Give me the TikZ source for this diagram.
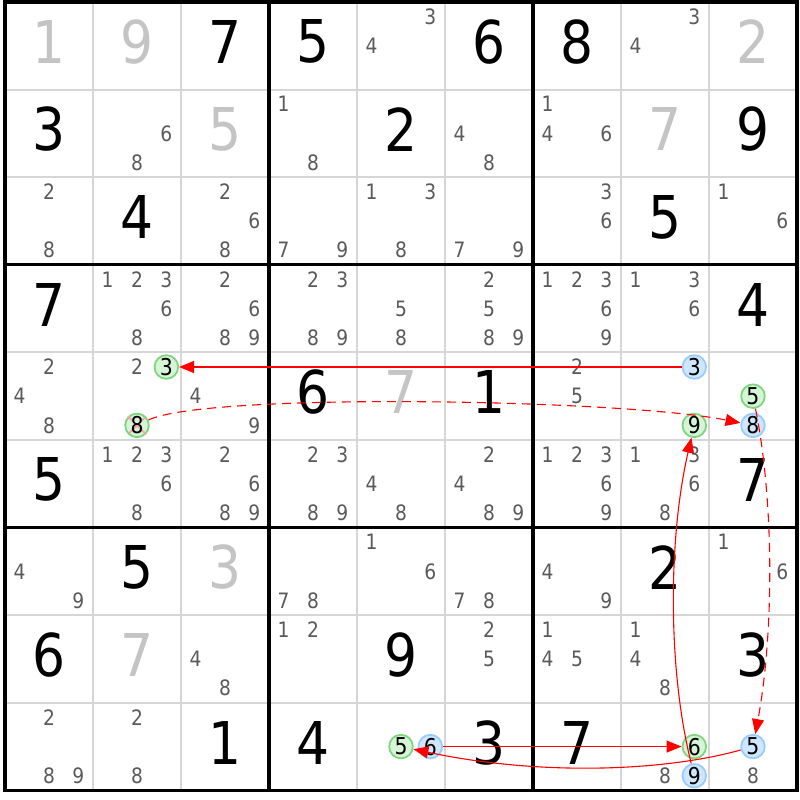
\documentclass[tikz,border=0pt]{standalone}
\usepackage{fontspec}
\setmainfont{DejaVu Sans}[FakeStretch=0.88]
\usepackage{tikz}
\usetikzlibrary{arrows.meta}
\tikzset{>={Triangle[length=7.5pt,width=6pt]}}
\definecolor{candgray}{HTML}{5A5A5A}
\definecolor{solvedgray}{HTML}{C4C4C4}
\definecolor{gridgray}{HTML}{D6D6D6}
\definecolor{hlgreen}{HTML}{D6F5D6}
\definecolor{hlgreenline}{HTML}{7FD67F}
\definecolor{hlblue}{HTML}{CFE6FF}
\definecolor{hlblueline}{HTML}{99CCFF}
\definecolor{crossred}{HTML}{F2A6A6}
\tikzstyle{given} = [font=\fontsize{29.5pt}{29.5pt}\selectfont, inner sep=0pt, yshift=2pt]
\tikzstyle{solved} = [given, text=solvedgray]
\tikzstyle{cand} = [font=\fontsize{10.6pt}{12pt}\selectfont, text=candgray, inner sep=0pt]
\tikzstyle{grn} = [cand, font=\fontsize{11.6pt}{12pt}\selectfont, text=black, circle,
    draw=hlgreenline, fill=hlgreen, line width=0.9pt, minimum size=11.8pt]
\tikzstyle{blu} = [grn, draw=hlblueline, fill=hlblue]
\tikzstyle{link} = [draw=red, line width=0.55pt, ->]
\tikzstyle{dlink} = [link, dash pattern=on 4.5pt off 3pt]
% small candidates of one cell: row, column, digits
\newcommand\cands[3]{\foreach \d in {#3}{
    \node[cand] (r#1c#2n\d) at ({#2-1+(mod(\d-1,3)+0.5)/3},{#1-1+(int((\d-1)/3)+0.5)/3}) {\d};}}
% one marked candidate: style, row, column, digit
\newcommand\hlcand[4]{
    \node[#1] (r#2c#3n#4) at ({#3-1+(mod(#4-1,3)+0.5)/3},{#2-1+(int((#4-1)/3)+0.5)/3}) {#4};}

\begin{document}
\begin{tikzpicture}[x=44pt, y=-43.8pt]
    \useasboundingbox (-0.057,-0.023) rectangle (9.034,9.110);
    \fill[white] (-0.057,-0.023) rectangle (9.034,9.110);

    % the grid
    \foreach \i in {1,...,8} {
        \draw[gridgray, line width=1pt] (\i,0) -- (\i,9);
        \draw[gridgray, line width=1pt] (0,\i) -- (9,\i);
    }
    \foreach \i in {3,6} {
        \draw[line width=1.7pt] (\i,0) -- (\i,9);
        \draw[line width=1.7pt] (0,\i) -- (9,\i);
    }
    \draw[line width=1.7pt] (0,0) rectangle (9,9);

    % givens and solved cells
    \foreach \r/\c/\v in {1/3/7, 1/4/5, 1/6/6, 1/7/8, 2/1/3, 2/5/2, 2/9/9,
        3/2/4, 3/8/5, 4/1/7, 4/9/4, 5/4/6, 5/6/1, 6/1/5, 6/9/7, 7/2/5, 7/8/2,
        8/1/6, 8/5/9, 8/9/3, 9/3/1, 9/4/4, 9/6/3, 9/7/7}
        \node[given] (d\r\c) at (\c-0.5,\r-0.5) {\v};
    \foreach \r/\c/\v in {1/1/1, 1/2/9, 1/9/2, 2/3/5, 2/8/7, 5/5/7, 7/3/3, 8/2/7}
        \node[solved] (d\r\c) at (\c-0.5,\r-0.5) {\v};

    % candidates
    \cands{1}{5}{3,4} \cands{1}{8}{3,4}
    \cands{2}{2}{6,8} \cands{2}{4}{1,8} \cands{2}{6}{4,8} \cands{2}{7}{1,4,6}
    \cands{3}{1}{2,8} \cands{3}{3}{2,6,8} \cands{3}{4}{7,9} \cands{3}{5}{1,3,8}
    \cands{3}{6}{7,9} \cands{3}{7}{3,6} \cands{3}{9}{1,6}
    \cands{4}{2}{1,2,3,6,8} \cands{4}{3}{2,6,8,9} \cands{4}{4}{2,3,8,9}
    \cands{4}{5}{5,8} \cands{4}{6}{2,5,8,9} \cands{4}{7}{1,2,3,6,9} \cands{4}{8}{1,3,6}
    \cands{5}{1}{2,4,8} \cands{5}{2}{2} \cands{5}{3}{4,9} \cands{5}{7}{2,5}
    \cands{6}{2}{1,2,3,6,8} \cands{6}{3}{2,6,8,9} \cands{6}{4}{2,3,8,9}
    \cands{6}{5}{4,8} \cands{6}{6}{2,4,8,9} \cands{6}{7}{1,2,3,6,9} \cands{6}{8}{1,3,6,8}
    \cands{7}{1}{4,9} \cands{7}{4}{7,8} \cands{7}{5}{1,6} \cands{7}{6}{7,8}
    \cands{7}{7}{4,9} \cands{7}{9}{1,6}
    \cands{8}{3}{4,8} \cands{8}{4}{1,2} \cands{8}{6}{2,5} \cands{8}{7}{1,4,5} \cands{8}{8}{1,4,8}
    \cands{9}{1}{2,8,9} \cands{9}{2}{2,8} \cands{9}{8}{8} \cands{9}{9}{8}

    % marked candidates
    \hlcand{grn}{5}{2}{3}
    \hlcand{blu}{5}{8}{3} \hlcand{grn}{5}{8}{9}
    \hlcand{grn}{5}{9}{5} \hlcand{blu}{5}{9}{8}
    \hlcand{grn}{9}{5}{5} \hlcand{blu}{9}{5}{6}
    \hlcand{grn}{9}{8}{6} \hlcand{blu}{9}{8}{9}
    \hlcand{blu}{9}{9}{5}
    % the struck out 8
    \node[grn] (r5c2n8) at ({1+1.5/3},{4+2.5/3}) {\phantom{8}};
    \draw[crossred, line width=0.9pt, shorten <=1pt, shorten >=1pt]
        (r5c2n8.north west) -- (r5c2n8.south east)
        (r5c2n8.north east) -- (r5c2n8.south west);
    \node[grn, draw=none, fill=none] (r5c2t8) at (r5c2n8) {8};

    % the chain
    \draw[link] (r5c8n3) -- (r5c2n3);
    \draw[dlink] (r5c2n8) .. controls +(0.8,-0.38) and +(-1.5,-0.3) .. (r5c9n8);
    \draw[dlink] (r5c9n5) .. controls +(0.24,1.2) and +(0.24,-1.3) .. (r9c9n5);
    \draw[link] (r9c5n6) -- (r9c8n6);
    \draw[link] (r9c9n5) .. controls +(-1.0,0.28) and +(1.6,0.34) .. (r9c5n5);
    \draw[link] (r9c8n9) .. controls +(-0.3,-1.2) and +(-0.3,1.3) .. (r5c8n9);
\end{tikzpicture}
\end{document}
